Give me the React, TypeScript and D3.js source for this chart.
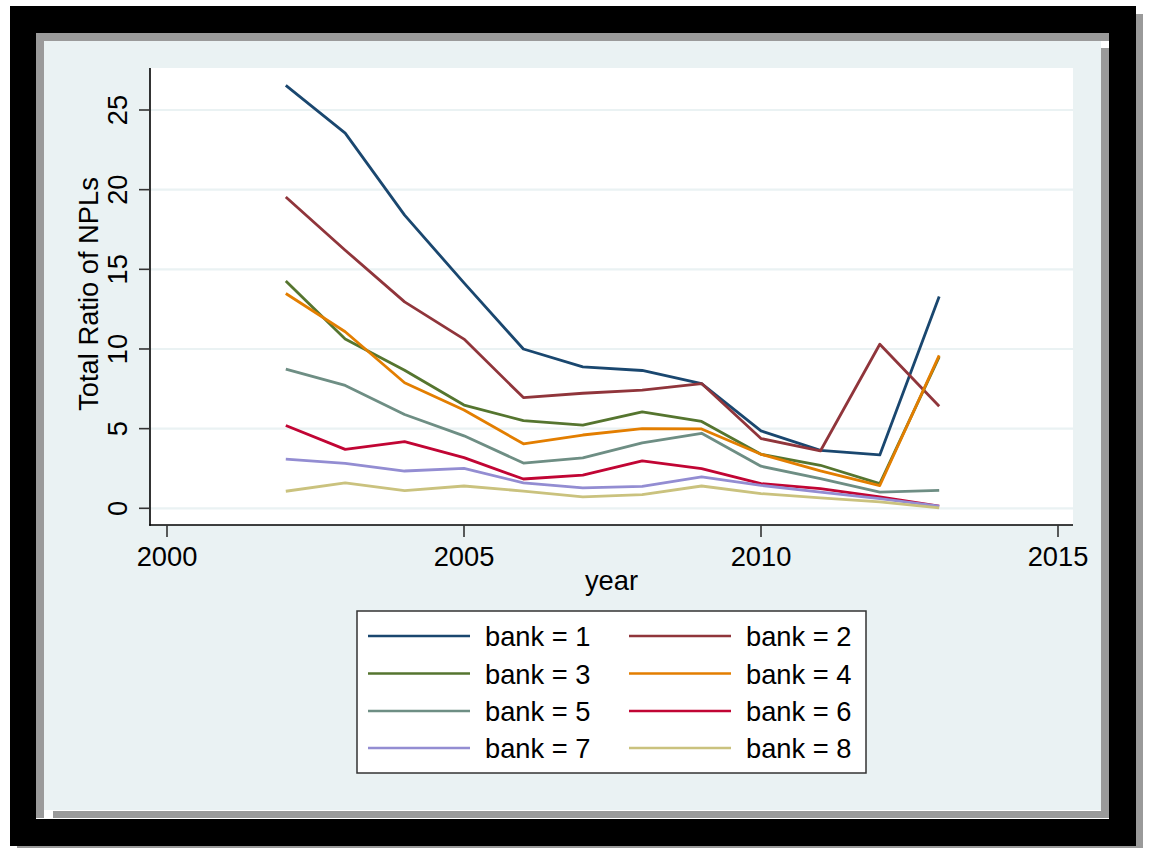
import React from "react";
import * as d3 from "d3";

const years = [2002, 2003, 2004, 2005, 2006, 2007, 2008, 2009, 2010, 2011, 2012, 2013];
const bank1 = [26.55, 23.55, 18.4, 14.15, 10.0, 8.88, 8.65, 7.83, 4.86, 3.64, 3.35, 13.3];
const bank2 = [19.54, 16.2, 12.96, 10.62, 6.95, 7.22, 7.42, 7.83, 4.38, 3.6, 10.3, 6.4];
const bank3 = [14.27, 10.62, 8.67, 6.48, 5.5, 5.22, 6.05, 5.45, 3.39, 2.7, 1.55, 9.5];
const bank4 = [13.48, 11.08, 7.88, 6.17, 4.05, 4.6, 5.0, 4.98, 3.39, 2.35, 1.43, 9.6];
const bank5 = [8.74, 7.71, 5.89, 4.55, 2.84, 3.17, 4.1, 4.71, 2.64, 1.86, 1.02, 1.13];
const bank6 = [5.2, 3.7, 4.18, 3.18, 1.84, 2.08, 2.97, 2.49, 1.55, 1.24, 0.71, 0.13];
const bank7 = [3.09, 2.82, 2.34, 2.5, 1.6, 1.28, 1.38, 1.97, 1.44, 1.02, 0.61, 0.13];
const bank8 = [1.07, 1.59, 1.11, 1.4, 1.08, 0.72, 0.86, 1.4, 0.92, 0.65, 0.4, 0.02];

const seriesValues = [bank1, bank2, bank3, bank4, bank5, bank6, bank7, bank8];
const seriesLabels = ["bank = 1", "bank = 2", "bank = 3", "bank = 4", "bank = 5", "bank = 6", "bank = 7", "bank = 8"];
const seriesColors = ["#1a476f", "#90353b", "#55752f", "#e37e00", "#6e8e84", "#c10534", "#938dd2", "#cac27e"];

const xTicks = [2000, 2005, 2010, 2015];
const yTicks = [0, 5, 10, 15, 20, 25];

const FONT = "'Liberation Sans', Arial, Helvetica, sans-serif";
const FS = 27.3;

export default function App() {
  const W = 1149, H = 848;
  const plotL = 150, plotR = 1073, plotT = 68, plotB = 525;
  const x = d3.scaleLinear().domain([2000, 2015]).range([167, 1058]);
  const y = d3.scaleLinear().domain([0, 25]).range([508.3, 110]);
  const line = d3.line<[number, number]>().x(d => x(d[0])).y(d => y(d[1]));
  const gray = "#9a9a9a";
  const panel = "#eaf2f3";

  const legX = 357, legY = 611, legW = 509, legH = 162;
  const rowY = [636, 673.5, 711, 748];
  const colLine = [[368, 470], [629, 731]];
  const colText = [485, 746];

  return (
    <svg width={W} height={H} style={{ position: "absolute", left: 0, top: 0 }} fontFamily={FONT}>
      <rect x={0} y={0} width={W} height={H} fill="#ffffff" />
      {/* outer shadow + black frame */}
      <rect x={17} y={14} width={1126} height={834} fill={gray} />
      <rect x={10} y={6} width={1126} height={840} fill="#000000" />
      {/* inner window */}
      <rect x={36} y={33} width={1073} height={786} fill="#ffffff" />
      <rect x={36} y={33} width={1073} height={8} fill={gray} />
      <rect x={36} y={33} width={8} height={785} fill={gray} />
      <rect x={1101} y={48} width={8} height={770} fill={gray} />
      <rect x={53} y={811} width={1056} height={7} fill={gray} />
      <rect x={44} y={41} width={1057} height={769} fill={panel} />

      {/* plot region */}
      <rect x={plotL} y={plotT} width={plotR - plotL} height={plotB - plotT} fill="#ffffff" />
      {yTicks.map(t => (
        <line key={"g" + t} x1={plotL} x2={plotR} y1={y(t)} y2={y(t)} stroke={panel} strokeWidth={2.2} />
      ))}

      {seriesValues.map((vals, i) => (
        <path
          key={"s" + i}
          d={line(years.map((yr, j) => [yr, vals[j]] as [number, number])) || ""}
          fill="none"
          stroke={seriesColors[i]}
          strokeWidth={2.8}
          strokeLinejoin="round"
        />
      ))}

      {/* axes */}
      <line x1={plotL} x2={plotL} y1={plotT} y2={plotB + 0.75} stroke="#000" strokeWidth={1.6} />
      <line x1={plotL - 0.75} x2={plotR} y1={plotB} y2={plotB} stroke="#000" strokeWidth={1.6} />
      {yTicks.map(t => (
        <g key={"yt" + t}>
          <line x1={plotL - 11} x2={plotL} y1={y(t)} y2={y(t)} stroke="#333" strokeWidth={1.6} />
          <text
            transform={`translate(127,${y(t)}) rotate(-90)`}
            textAnchor="middle"
            fontSize={FS}
            fill="#000"
          >
            {t}
          </text>
        </g>
      ))}
      {xTicks.map(t => (
        <g key={"xt" + t}>
          <line x1={x(t)} x2={x(t)} y1={plotB} y2={plotB + 12} stroke="#333" strokeWidth={1.6} />
          <text x={x(t)} y={566} textAnchor="middle" fontSize={FS} fill="#000">
            {t}
          </text>
        </g>
      ))}
      <text x={(plotL + plotR) / 2} y={590} textAnchor="middle" fontSize={FS} fill="#000">
        year
      </text>
      <text transform="translate(98,294) rotate(-90)" textAnchor="middle" fontSize={FS} fill="#000">
        Total Ratio of NPLs
      </text>

      {/* legend */}
      <rect x={legX} y={legY} width={legW} height={legH} fill="#ffffff" stroke="#333" strokeWidth={1.5} />
      {seriesLabels.map((lab, i) => {
        const col = i % 2;
        const row = Math.floor(i / 2);
        return (
          <g key={"l" + i}>
            <line
              x1={colLine[col][0]}
              x2={colLine[col][1]}
              y1={rowY[row]}
              y2={rowY[row]}
              stroke={seriesColors[i]}
              strokeWidth={2.4}
            />
            <text x={colText[col]} y={rowY[row] + 10} fontSize={FS} fill="#000">
              {lab}
            </text>
          </g>
        );
      })}
    </svg>
  );
}
